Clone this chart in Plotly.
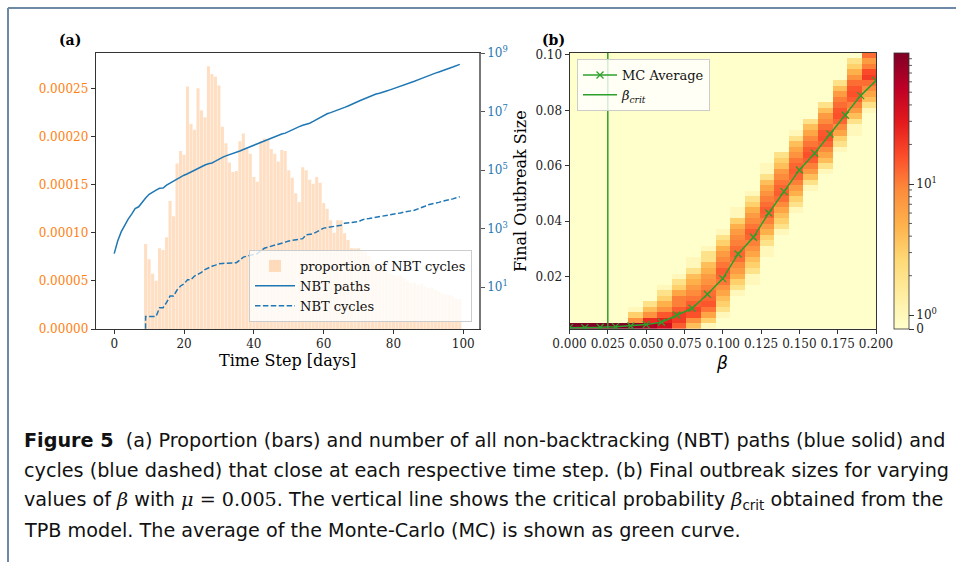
import numpy as np
import plotly.graph_objects as go

# ---------------- Panel (a) data ----------------
time_steps = list(range(100))

# proportion of NBT cycles closing at each step (t = 0..99)
prop_cycles = [0, 0, 0, 0, 0, 0, 0, 0, 0,
               8.83e-5, 7.24e-5, 5.75e-5, 5.02e-5, 8.38e-5, 8.21e-5, 9.52e-5, 1.33e-4, 1.17e-4, 1.72e-4,
               1.85e-4, 1.81e-4, 2.52e-4, 2.13e-4, 2.07e-4, 2.50e-4, 2.27e-4, 2.20e-4, 2.73e-4, 2.65e-4,
               2.62e-4, 2.53e-4, 2.10e-4, 1.93e-4, 1.73e-4, 1.63e-4, 1.64e-4, 1.95e-4, 2.03e-4, 1.87e-4,
               1.82e-4, 1.58e-4, 1.53e-4, 1.95e-4, 1.98e-4, 1.96e-4, 1.87e-4, 1.82e-4, 1.74e-4, 1.86e-4,
               1.85e-4, 1.65e-4, 1.57e-4, 1.41e-4, 1.32e-4, 1.68e-4, 1.65e-4, 1.55e-4, 1.51e-4, 1.58e-4,
               1.52e-4, 1.31e-4, 1.25e-4, 1.13e-4, 1.00e-4, 1.13e-4, 1.13e-4, 9.94e-5, 9.25e-5, 8.38e-5,
               8.35e-5, 8.38e-5, 8.10e-5, 8.00e-5, 7.60e-5, 7.00e-5, 6.60e-5, 6.40e-5, 6.20e-5, 6.00e-5,
               5.80e-5, 5.60e-5, 5.50e-5, 5.60e-5, 5.30e-5, 5.00e-5, 4.74e-5, 4.80e-5, 4.57e-5, 4.70e-5,
               4.40e-5, 4.22e-5, 4.30e-5, 4.05e-5, 3.90e-5, 3.70e-5, 3.60e-5, 3.53e-5, 3.40e-5, 3.18e-5,
               3.08e-5]

# number of NBT paths (t = 0..99)
nbt_paths = [1.41e2, 3.80e2, 7.76e2, 1.32e3, 2.14e3, 3.16e3, 4.90e3, 5.62e3, 8.32e3, 1.12e4,
             1.51e4, 1.82e4, 2.09e4, 2.40e4, 2.45e4, 3.09e4, 3.63e4, 4.17e4, 5.01e4, 5.89e4,
             6.76e4, 7.59e4, 8.71e4, 1.00e5, 1.17e5, 1.35e5, 1.51e5, 1.66e5, 1.78e5, 2.04e5,
             2.40e5, 2.75e5, 3.09e5, 3.39e5, 3.72e5, 3.98e5, 4.57e5, 5.13e5, 5.75e5, 6.46e5,
             7.24e5, 7.94e5, 8.91e5, 9.77e5, 1.10e6, 1.23e6, 1.38e6, 1.55e6, 1.74e6, 1.86e6,
             2.14e6, 2.40e6, 2.69e6, 3.09e6, 3.47e6, 3.72e6, 4.07e6, 4.68e6, 5.50e6, 6.46e6,
             7.59e6, 8.51e6, 9.33e6, 1.02e7, 1.12e7, 1.26e7, 1.41e7, 1.58e7, 1.82e7, 2.04e7,
             2.29e7, 2.57e7, 2.88e7, 3.24e7, 3.72e7, 4.07e7, 4.27e7, 4.57e7, 5.13e7, 5.62e7,
             6.17e7, 6.76e7, 7.41e7, 8.32e7, 8.71e7, 9.77e7, 1.10e8, 1.23e8, 1.38e8, 1.55e8,
             1.74e8, 1.86e8, 2.09e8, 2.29e8, 2.57e8, 2.82e8, 3.09e8, 3.39e8, 3.80e8, 4.17e8]

# number of NBT cycles (t = 0..99)
nbt_cycles = [0, 0, 0, 0, 0, 0, 0, 0, 0,
              1, 1, 1, 1, 2, 2, 3, 5, 5, 8, 11,
              13, 18, 18, 24, 28, 32, 40, 47, 52, 57,
              63, 65, 66, 66, 68, 69, 85, 107, 115, 123,
              132, 141, 178, 214, 234, 251, 275, 288, 324, 347,
              380, 398, 407, 427, 457, 617, 646, 676, 776, 933,
              1047, 1096, 1148, 1202, 1230, 1318, 1549, 1585, 1622, 1660,
              1738, 1995, 2188, 2239, 2344, 2455, 2570, 2754, 2884, 2951,
              3020, 3236, 3467, 3715, 3981, 4074, 4266, 4677, 5129, 5888,
              6607, 6918, 7244, 7943, 8710, 9120, 9550, 10470, 11480, 12300]

# ---------------- Panel (b) data ----------------
beta_edges = list(np.linspace(0.0, 0.2, 22))          # 21 beta bins
size_edges = list(np.linspace(0.0011, 0.1008, 51))    # 50 outbreak-size bins

# histogram counts per beta column: (first row index, counts upward)
column_counts = [
    (0, [100]),
    (0, [100]),
    (0, [100]),
    (0, [100]),
    (0, [88, 8, 3, 1]),
    (0, [62, 24, 8, 4, 2]),
    (0, [38, 28, 15, 8, 5, 3, 2, 1]),
    (0, [14, 20, 20, 14, 10, 10, 6, 3, 2, 1]),
    (0, [4, 8, 16, 18, 14, 11, 9, 7, 5, 4, 2, 1, 1]),
    (0, [1, 3, 6, 11, 15, 13, 12, 10, 8, 7, 5, 4, 2, 2, 1]),
    (2, [1, 2, 3, 4, 6, 8, 11, 13, 14, 11, 9, 7, 5, 3, 2, 1]),
    (6, [1, 2, 3, 5, 7, 9, 12, 13, 12, 10, 9, 7, 5, 3, 1, 1]),
    (8, [1, 1, 2, 3, 4, 6, 8, 10, 13, 14, 11, 9, 7, 5, 3, 2, 1]),
    (13, [1, 1, 2, 3, 5, 7, 10, 13, 14, 12, 10, 8, 6, 4, 2, 1, 1]),
    (17, [1, 2, 3, 4, 6, 9, 12, 14, 13, 11, 9, 7, 4, 3, 2]),
    (21, [1, 2, 3, 5, 7, 10, 13, 14, 13, 11, 8, 6, 4, 2, 1]),
    (25, [1, 2, 4, 7, 10, 14, 16, 14, 11, 9, 6, 4, 2]),
    (28, [1, 2, 4, 6, 9, 13, 16, 15, 12, 9, 7, 4, 2]),
    (32, [1, 2, 3, 6, 9, 13, 16, 15, 12, 10, 7, 4, 2]),
    (35, [1, 1, 2, 4, 7, 10, 14, 16, 15, 12, 8, 5, 3, 2]),
    (39, [1, 2, 4, 6, 9, 12, 20, 17, 10, 7, 12]),
]

mc_beta = [0.00, 0.01, 0.02, 0.03, 0.04, 0.05, 0.06, 0.07, 0.08, 0.09, 0.10,
           0.11, 0.12, 0.13, 0.14, 0.15, 0.16, 0.17, 0.18, 0.19, 0.20]
mc_average = [0.00159, 0.00159, 0.00171, 0.00195, 0.00220, 0.00268, 0.00352, 0.00617,
              0.00857, 0.01362, 0.01928, 0.02818, 0.03419, 0.04298, 0.05068, 0.05850,
              0.06451, 0.07149, 0.07823, 0.08532, 0.09074]
beta_crit = 0.025

# ---------------- helpers ----------------
W, H = 956, 562
def px(x):
    return x / W
def py(y):
    return 1 - y / H

SERIF = "DejaVu Serif"
ORANGE = "#ff7f0e"
BLUE = "#1f77b4"
GREEN = "#2ca02c"

n_rows = len(size_edges) - 1
n_cols = len(beta_edges) - 1
counts = np.zeros((n_rows, n_cols))
for j, (r0, vals) in enumerate(column_counts):
    for i, v in enumerate(vals):
        counts[r0 + i, j] = v

# symmetric-log style colour normalisation (0 .. 100)
LIN_W = 0.05
def norm(c):
    c = np.asarray(c, dtype=float)
    return np.where(c <= 1, LIN_W * c, LIN_W + (1 - LIN_W) / 2 * np.log10(np.maximum(c, 1)))

zt = norm(counts)
ylorrd = ["#ffffcc", "#ffeda0", "#fed976", "#feb24c", "#fd8d3c",
          "#fc4e2a", "#e31a1c", "#bd0026", "#800026"]
cscale = [[i / 8, c] for i, c in enumerate(ylorrd)]

# log-axis clipping of non-positive values (like matplotlib 'clip')
cyc_plot = [v if v > 0 else 1e-300 for v in nbt_cycles]

fig = go.Figure()

fig.add_trace(go.Bar(
    x=time_steps, y=prop_cycles, name="proportion of NBT cycles",
    marker=dict(color="rgba(255,127,14,0.25)", line=dict(width=0)),
    xaxis="x", yaxis="y", legend="legend",
))
fig.add_trace(go.Scatter(
    x=time_steps, y=nbt_paths, name="NBT paths", mode="lines",
    line=dict(color=BLUE, width=1.5), xaxis="x", yaxis="y2", legend="legend",
))
fig.add_trace(go.Scatter(
    x=time_steps, y=cyc_plot, name="NBT cycles", mode="lines",
    line=dict(color=BLUE, width=1.5, dash="5.5px,2.4px"), xaxis="x", yaxis="y2",
    legend="legend",
))

cb_ticks = [0, 1, 10]
fig.add_trace(go.Heatmap(
    x=beta_edges, y=size_edges, z=zt, zmin=0, zmax=1,
    colorscale=cscale, showscale=True, xaxis="x2", yaxis="y3",
    hoverinfo="skip",
    colorbar=dict(
        x=px(894), xanchor="left", y=py(329), yanchor="bottom",
        len=(329 - 52.7) / H, lenmode="fraction", thickness=15,
        xpad=0, ypad=0, outlinewidth=0.8, outlinecolor="#333",
        tickvals=list(norm(cb_ticks)), ticktext=["0", "10<sup>0</sup>", "10<sup>1</sup>"],
        ticks="outside", ticklen=5, tickwidth=0.8, tickcolor="#333",
        tickfont=dict(family=SERIF, size=12, color="#222"),
    ),
))
fig.add_trace(go.Scatter(
    x=mc_beta, y=mc_average, name="MC Average", mode="lines+markers",
    line=dict(color=GREEN, width=1.5),
    marker=dict(symbol="x-thin", size=7, line=dict(color=GREEN, width=1.3)),
    xaxis="x2", yaxis="y3", legend="legend2",
))
fig.add_trace(go.Scatter(
    x=[beta_crit, beta_crit], y=[size_edges[0], size_edges[-1]],
    name="<i>β</i><sub><i>crit</i></sub>", mode="lines",
    line=dict(color=GREEN, width=1.5), xaxis="x2", yaxis="y3", legend="legend2",
))

tickfont = dict(family=SERIF, size=12, color="#222")
ydom = [py(329), py(52.7)]

fig.update_layout(
    width=W, height=H,
    margin=dict(l=0, r=0, t=0, b=0, pad=0, autoexpand=False),
    paper_bgcolor="white", plot_bgcolor="rgba(0,0,0,0)",
    bargap=0.12, showlegend=True,
    xaxis=dict(domain=[px(95.7), px(479)], range=[-5.3, 104.5], anchor="y",
               tickvals=[0, 20, 40, 60, 80, 100], ticks="outside", ticklen=4,
               tickwidth=0.8, tickcolor="#333", showline=True, linecolor="#333",
               linewidth=1, mirror=True, showgrid=False, zeroline=False,
               tickfont=tickfont, automargin=False),
    yaxis=dict(domain=ydom, range=[0, 0.000287], anchor="x",
               tickvals=[0, 0.00005, 0.0001, 0.00015, 0.0002, 0.00025], tickformat=".5f",
               ticks="outside", ticklen=4, tickwidth=0.8, tickcolor="#333",
               showline=True, linecolor="#333", linewidth=1, showgrid=False,
               zeroline=False, tickfont=dict(family=SERIF, size=12, color=ORANGE),
               automargin=False),
    yaxis2=dict(overlaying="y", side="right", type="log", range=[-0.43, 9.02], anchor="x",
                tickvals=[1e1, 1e3, 1e5, 1e7, 1e9],
                ticktext=["10<sup>1</sup>", "10<sup>3</sup>", "10<sup>5</sup>",
                          "10<sup>7</sup>", "10<sup>9</sup>"],
                ticks="outside", ticklen=4, tickwidth=0.8, tickcolor="#555",
                showline=True, linecolor="#777", linewidth=1.5, showgrid=False,
                zeroline=False, tickfont=dict(family=SERIF, size=12, color=BLUE),
                automargin=False),
    xaxis2=dict(domain=[px(569.5), px(876)], range=[0, 0.2], anchor="y3",
                tickvals=[0, 0.025, 0.05, 0.075, 0.1, 0.125, 0.15, 0.175, 0.2],
                tickformat=".3f", ticks="outside", ticklen=4, tickwidth=0.8,
                tickcolor="#333", showline=True, linecolor="#333", linewidth=1,
                mirror=True, showgrid=False, zeroline=False, tickfont=tickfont,
                automargin=False),
    yaxis3=dict(domain=ydom, range=[size_edges[0], size_edges[-1]], anchor="x2",
                tickvals=[0.02, 0.04, 0.06, 0.08, 0.10], tickformat=".2f",
                ticks="outside", ticklen=4, tickwidth=0.8, tickcolor="#333",
                showline=True, linecolor="#333", linewidth=1, mirror=True,
                showgrid=False, zeroline=False, tickfont=tickfont, automargin=False),
    legend=dict(x=px(472), xanchor="right", y=py(322), yanchor="bottom",
                bgcolor="rgba(255,255,255,0.8)", bordercolor="#cccccc", borderwidth=1,
                font=dict(family=SERIF, size=13, color="#111"), itemwidth=40,
                tracegroupgap=0),
    legend2=dict(x=px(577), xanchor="left", y=py(59), yanchor="top",
                 bgcolor="rgba(255,255,255,0.8)", bordercolor="#cccccc", borderwidth=1,
                 font=dict(family=SERIF, size=13, color="#111"), itemwidth=34,
                 tracegroupgap=0),
)

# colorbar minor ticks
minor = [2, 3, 4, 5, 6, 7, 8, 9, 20, 30, 40, 50, 60, 70, 80, 90]
shapes = []
for m in minor:
    yy = 329 - float(norm(m)) * (329 - 52.7)
    shapes.append(dict(type="line", xref="paper", yref="paper",
                       x0=px(909), x1=px(912), y0=py(yy), y1=py(yy),
                       line=dict(color="#333", width=0.8)))
# page frame
shapes.append(dict(type="line", xref="paper", yref="paper", x0=px(8), x1=1.0,
                   y0=py(8), y1=py(8), line=dict(color="#6d89a6", width=2)))
shapes.append(dict(type="line", xref="paper", yref="paper", x0=px(8), x1=px(8),
                   y0=py(8), y1=0.0, line=dict(color="#6d89a6", width=2)))
fig.update_layout(shapes=shapes)


def label(text, x, y, size, family=SERIF, angle=0):
    return dict(text=text, x=px(x), y=py(y), xref="paper", yref="paper",
                xanchor="center", yanchor="middle", showarrow=False, textangle=angle,
                font=dict(family=family, size=size, color="black"))


ann = [
    label("<b>(a)</b>", 70, 40, 14),
    label("<b>(b)</b>", 553, 40, 14),
    label("Time Step [days]", 287, 360, 16),
    label("Final Outbreak Size", 521, 191, 16, angle=-90),
    label("<i>β</i>", 722, 363, 17, family="DejaVu Sans"),
]

CAP = "DejaVu Sans"
cap_lines = [
    "<b>Figure 5</b>  (a) Proportion (bars) and number of all non-backtracking (NBT) paths (blue solid) and",
    "cycles (blue dashed) that close at each respective time step. (b) Final outbreak sizes for varying",
    "values of <span style='font-family:DejaVu Serif'><i>β</i></span> with "
    "<span style='font-family:DejaVu Serif'><i>μ</i> = 0.005</span>. The vertical line shows the critical probability "
    "<span style='font-family:DejaVu Serif'><i>β</i></span><sub>crit</sub> obtained from the",
    "TPB model. The average of the Monte-Carlo (MC) is shown as green curve.",
]
for k, line in enumerate(cap_lines):
    ann.append(dict(text=line, x=px(22), y=py(440 + 30 * k), xref="paper", yref="paper",
                    xanchor="left", yanchor="middle", showarrow=False, align="left",
                    font=dict(family=CAP, size=19.2, color="#111")))
fig.update_layout(annotations=ann)

fig.write_html("out.html", config={"displayModeBar": False},
               post_script="document.body.style.margin='0';")
